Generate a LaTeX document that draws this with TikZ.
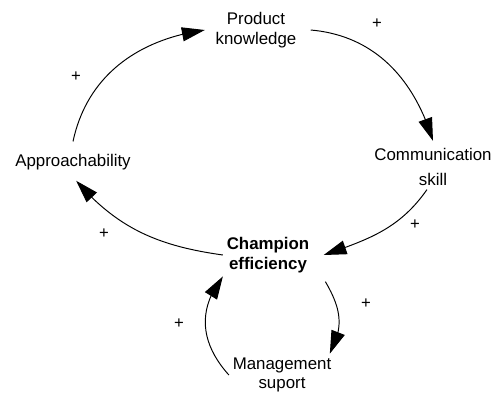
\documentclass[tikz,border=0pt]{standalone}
\usepackage{fontspec}
\setmainfont{Liberation Sans}
\usepackage{tikz}
\usetikzlibrary{positioning,arrows.meta,bending}
\tikzset{
  varnode/.style={align=center, inner sep=2pt, font=\fontsize{9.6}{11.3}\selectfont},
  keynode/.style={varnode, font=\fontsize{9.6}{11}\selectfont\bfseries},
  linkarr/.style={-{Triangle[length=13pt, width=8pt, flex]}, line width=0.55pt},
  polarity/.style={inner sep=1pt, font=\fontsize{9.5}{10}\selectfont}
}

\begin{document}
\begin{tikzpicture}
\useasboundingbox (0,0) rectangle (10,7.84);
% variables
\node[varnode] (prod) at (5.12,7.24) {Product\\knowledge};
\node[varnode] (comm) at (8.66,4.50) {Communication\\[3pt]skill};
\node[varnode] (appr) at (1.46,4.60) {Approachability};
\node[keynode] (champ) at (5.36,2.74) {Champion\\efficiency};
\node[varnode] (mgmt) at (5.64,0.34) {Management\\suport};
% polarities
\node[polarity] (p1) at (7.54,7.36) {+};
\node[polarity] (p2) at (1.52,6.30) {+};
\node[polarity] (p3) at (8.30,3.34) {+};
\node[polarity] (p4) at (2.08,3.16) {+};
\node[polarity] (p5) at (7.32,1.76) {+};
\node[polarity] (p6) at (3.58,1.36) {+};
% links
\draw[linkarr] ([yshift=5pt]appr.north) to[out=78,in=188] ([xshift=-4pt]prod.west);
\draw[linkarr] ([xshift=6pt]prod.east) to[out=-5,in=107] ([yshift=2pt]comm.north);
\draw[linkarr] (comm.-105) to[out=-125,in=19] ([xshift=6pt]champ.east);
\draw[linkarr] (champ.west) to[out=172,in=311] ([yshift=-4pt]appr.-75);
\draw[linkarr] ([shift={(7pt,-3pt)}]champ.south east) to[out=-60,in=62,looseness=1.1] ([xshift=-3pt]mgmt.north east);
\draw[linkarr] (mgmt.west) to[out=132,in=232,looseness=1.1] (champ.south west);
\end{tikzpicture}
\end{document}
